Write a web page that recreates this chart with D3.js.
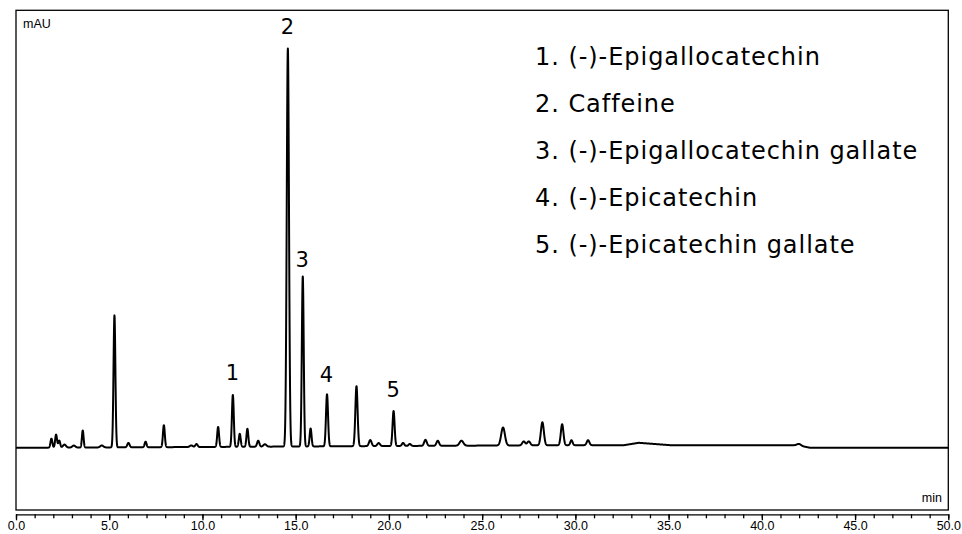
<!DOCTYPE html>
<html><head><meta charset="utf-8">
<script src="https://cdn.jsdelivr.net/npm/d3@7"></script>
<style>body{margin:0;background:#fff}svg{display:block}</style>
</head><body><svg id="c" width="962" height="534"></svg>
<script>
// Peak table: retention time (min), height (mAU), width sigma (min)
const peakTime  = [1.9, 2.15, 2.32, 2.6, 3.1, 3.58, 4.6, 5.28, 6.03, 6.95, 7.93, 9.4, 9.68, 10.84, 11.63, 12.0, 12.41, 12.99, 13.35, 14.58, 15.38, 15.8, 16.68, 18.26, 19.0, 19.45, 20.25, 20.76, 21.12, 21.96, 22.62, 23.89, 26.12, 27.23, 27.5, 28.23, 29.29, 29.79, 30.68, 42.0];
const peakHeight= [4.5, 6.5, 3.5, 1.5, 1.0, 8.5, 1.0, 66, 2.2, 2.8, 11, 0.8, 1.5, 10, 26, 6.5, 9, 3, 1.2, 199, 85, 9, 26, 30, 3, 1.5, 17.5, 1.5, 1.0, 3, 2.5, 2.5, 9, 2, 2, 11.5, 10.5, 2.5, 2.5, 0.8];
const peakWidth = [0.05, 0.05, 0.05, 0.08, 0.08, 0.045, 0.08, 0.05, 0.06, 0.05, 0.05, 0.08, 0.06, 0.05, 0.05, 0.05, 0.05, 0.06, 0.08, 0.06, 0.05, 0.05, 0.055, 0.06, 0.07, 0.07, 0.055, 0.06, 0.06, 0.07, 0.07, 0.1, 0.1, 0.08, 0.08, 0.08, 0.07, 0.06, 0.07, 0.1];
// Baseline drift breakpoints (min, mAU)
const baseTime  = [0, 10, 20, 30, 32.6, 33.4, 35.1, 41.9, 42.6, 50];
const baseLevel = [0, 0.4, 0.9, 1.3, 1.3, 2.5, 1.3, 1.3, 0, 0];
// Labels
const peakLabels = ["1","2","3","4","5"];
const peakLabelTime = [11.63, 14.58, 15.38, 16.68, 20.25];
const legendItems = ["1. (-)-Epigallocatechin","2. Caffeine","3. (-)-Epigallocatechin gallate","4. (-)-Epicatechin","5. (-)-Epicatechin gallate"];
const tickValues = [0,5,10,15,20,25,30,35,40,45,50];

const svg = d3.select("#c");
const L = 16, R = 948.3, T = 10.3, B = 510;
const x = d3.scaleLinear().domain([0, 50]).range([L, R]);
const y = d3.scaleLinear().domain([-31.1, 218.75]).range([B, T]);
const base = d3.scaleLinear().domain(baseTime).range(baseLevel);

// frame
svg.append("rect").attr("x", L).attr("y", T).attr("width", R - L).attr("height", B - T)
  .attr("fill", "none").attr("stroke", "#000").attr("stroke-width", 1.3);

// signal
const step = 0.004;
const ts = d3.range(0, 50 + step / 2, step);
const sig = ts.map(t => {
  let v = base(t);
  for (let i = 0; i < peakTime.length; i++) {
    const d = (t - peakTime[i]) / peakWidth[i];
    if (Math.abs(d) < 8) v += peakHeight[i] * Math.exp(-0.5 * d * d);
  }
  return [t, v];
});
svg.append("path").datum(sig)
  .attr("d", d3.line().x(d => x(d[0])).y(d => y(d[1])))
  .attr("fill", "none").attr("stroke", "#000").attr("stroke-width", 2).attr("stroke-linejoin", "round");

// axis
const axY = 514.3;
const ax = svg.append("g").attr("transform", `translate(0,${axY})`);
ax.call(d3.axisBottom(x).tickValues(d3.range(0, 51, 1)).tickSize(4).tickFormat(""))
  .call(g => g.select(".domain").remove());
ax.selectAll("line").attr("stroke-width", 1.3);
const ax2 = svg.append("g").attr("transform", `translate(0,${axY})`);
ax2.call(d3.axisBottom(x).tickValues(tickValues).tickSize(6).tickPadding(1).tickFormat(d3.format(".1f")));
ax2.select(".domain").attr("d", `M${L},0.5H${R}`).attr("stroke-width", 1.3);
ax2.selectAll("line").attr("stroke-width", 1.3);
ax2.selectAll("text").attr("font-family", "Liberation Sans, Arial, sans-serif").attr("font-size", 12.5).attr("fill", "#000");

// unit labels
svg.append("text").attr("x", 23).attr("y", 27.5).text("mAU")
  .attr("font-family", "Liberation Sans, Arial, sans-serif").attr("font-size", 12.5);
svg.append("text").attr("x", 942).attr("y", 502).attr("text-anchor", "end").text("min")
  .attr("font-family", "Liberation Sans, Arial, sans-serif").attr("font-size", 12.5);

// peak number labels
const labelBase = [380, 34, 267, 382, 397];
svg.selectAll("text.pk").data(peakLabels).join("text").attr("class", "pk")
  .attr("x", (d, i) => x(peakLabelTime[i]) - 0.5).attr("y", (d, i) => labelBase[i])
  .attr("text-anchor", "middle").attr("font-family", "DejaVu Sans, sans-serif").attr("font-size", 21)
  .text(d => d);

// legend
svg.selectAll("text.lg").data(legendItems).join("text").attr("class", "lg")
  .attr("x", 535).attr("y", (d, i) => 65 + i * 47)
  .attr("font-family", "DejaVu Sans, sans-serif").attr("font-size", 24).attr("letter-spacing", 0.95)
  .text(d => d);
</script></body></html>
